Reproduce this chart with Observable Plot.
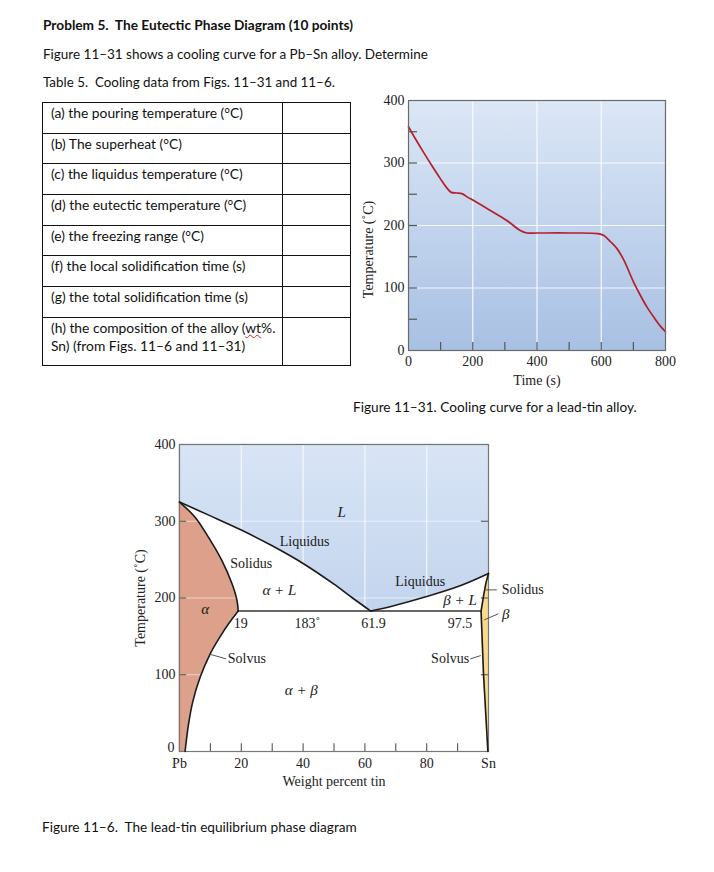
<!DOCTYPE html>
<html><head><meta charset="utf-8">
<script src="https://cdn.jsdelivr.net/npm/d3@7"></script>
<script src="https://cdn.jsdelivr.net/npm/@observablehq/plot@0.6"></script>
<style>
body{margin:0;background:#fff;width:714px;height:872px;position:relative;overflow:hidden;font-family:Lato,"Open Sans",sans-serif;color:#111}
.t{position:absolute;white-space:nowrap;font-size:14px;line-height:1}
table{position:absolute;left:42px;top:102px;border-collapse:collapse;table-layout:fixed}
td{border:1.3px solid #111;padding:1px 0 0 8px;vertical-align:top;line-height:18.3px;white-space:nowrap;overflow:visible}
.chart{position:absolute}
</style></head><body>
<script>
// ---------- text content ----------
const titleText = "Problem 5.\u00a0 The Eutectic Phase Diagram (10 points)";
const introText = "Figure 11\u201331 shows a cooling curve for a Pb\u2013Sn alloy. Determine";
const tableTitle = "Table 5.\u00a0 Cooling data from Figs. 11\u201331 and 11\u20136.";
const questions = [
  "(a) the pouring temperature (\u00b0C)",
  "(b) The superheat (\u00b0C)",
  "(c) the liquidus temperature (\u00b0C)",
  "(d) the eutectic temperature (\u00b0C)",
  "(e) the freezing range (\u00b0C)",
  "(f) the local solidification time (s)",
  "(g) the total solidification time (s)",
  "(h) the composition of the alloy (<span style=\"text-decoration:underline wavy #d02020;text-decoration-thickness:1px\">wt</span>%.<br>Sn) (from Figs. 11\u20136 and 11\u201331)"
];
const caption1 = "Figure 11\u201331. Cooling curve for a lead-tin alloy.";
const caption2 = "Figure 11\u20136.\u00a0 The lead-tin equilibrium phase diagram";

// ---------- cooling curve data ----------
const coolTime = [0, 20, 47, 75, 99, 118, 133, 150, 166, 185, 203, 255, 306, 348, 369, 400, 500, 590, 608, 629, 649, 670, 701, 722, 743, 764, 784, 800];
const coolTemp = [358, 340, 317, 294, 275, 261, 253, 252, 251, 245, 240, 224, 208, 192, 188, 188, 188, 187, 184, 174, 163, 145, 109, 88, 69, 53, 39, 30];
const coolTicksX = [0, 200, 400, 600, 800];
const coolTicksY = [0, 100, 200, 300, 400];
const coolMinorX = [100, 200, 300, 400, 500, 600, 700];
const coolMinorY = [50, 100, 150, 200, 250, 300, 350];
const coolGridX = [200, 400, 600];
const coolGridY = [100, 200, 300];

// ---------- phase diagram data ----------
const liqLeftX = [0, 10, 20, 30, 40, 50, 56, 61.9];
const liqLeftT = [325, 307, 288.5, 268, 245, 218, 200, 183];
const liqRightX = [61.9, 69.3, 80, 90.8, 100];
const liqRightT = [183, 190, 202, 216, 232];
const alphaSolidusX = [0, 5.1, 9.4, 13.7, 17, 18.6, 19];
const alphaSolidusT = [325, 305, 279, 249, 218.5, 197, 183];
const alphaSolvusX = [19, 16, 13.2, 9.9, 6.7, 4.3, 2.9, 1.8];
const alphaSolvusT = [183, 167, 150, 127, 97, 65, 35, 0];
const betaSolidusX = [97.6, 98.5, 99.2, 100];
const betaSolidusT = [183, 205, 220, 232];
const betaSolvusX = [97.6, 98.4, 99.8];
const betaSolvusT = [183, 100, 0];
const eutecticT = 183;
const alphaMax = 19, betaMin = 97.6;
const phaseTicksX = [0, 20, 40, 60, 80, 100];
const phaseTickLabelsX = ["Pb", "20", "40", "60", "80", "Sn"];
const phaseTicksY = [100, 200, 300, 400];
const phaseZeroY = [0];
const phaseMinorX = [10, 20, 30, 40, 50, 60, 70, 80, 90];
const phaseMinorY = [100, 200, 300];
const phaseGridX = [20, 40, 60, 80];
const phaseGridY = [100, 200, 300];
const labelText = ["L", "Liquidus", "Solidus", "\u03b1 + L", "\u03b1", "19", "183\u02da", "61.9", "97.5", "Liquidus", "\u03b2 + L", "Solvus", "Solvus", "\u03b1 + \u03b2", "Solidus", "\u03b2"];
const labelX = [52.5, 40.5, 23.2, 32.3, 8.3, 19.8, 41.4, 62.8, 90.8, 77.9, 90.8, 21.8, 87.6, 39.4, 104.3, 104.4];
const labelT = [312, 274, 245.5, 210.6, 185, 167, 167, 167, 167, 221.5, 196.7, 120.7, 120.7, 80.3, 210.6, 179.4];
const labelItalic = [1, 0, 0, 1, 1, 0, 0, 0, 0, 0, 1, 0, 0, 1, 0, 1];
const labelStart = [0, 0, 0, 0, 0, 0, 0, 0, 0, 0, 0, 0, 0, 0, 1, 1];
const leaderX1 = [10.1, 94.1, 98.7, 98.6];
const leaderT1 = [126.4, 120.7, 210.6, 171.5];
const leaderX2 = [15.1, 97.5, 102.7, 103.2];
const leaderT2 = [120.7, 125, 210.6, 179.4];

// ---------- HTML text ----------
function addText(txt, left, top, target, bold) {
  const d = document.createElement("div");
  d.className = "t";
  d.style.left = left + "px"; d.style.top = top + "px";
  if (bold) d.style.fontWeight = "700";
  d.textContent = txt;
  document.body.appendChild(d);
  const w = d.getBoundingClientRect().width;
  d.style.fontSize = (14 * target / w).toFixed(2) + "px";
  return d;
}
addText(titleText, 43, 18, 310, true);
addText(introText, 43, 48, 385, false);
addText(tableTitle, 43, 76, 292, false);
addText(caption1, 353, 401, 284, false);
addText(caption2, 42, 821, 315, false);

// table
const rowH = [30.6, 30, 31, 31, 30.4, 31, 30.6, 48.7];
const tbl = document.createElement("table");
const probe = document.createElement("span");
probe.style.cssText = "position:absolute;visibility:hidden;white-space:nowrap;font-size:14px;font-family:Lato,sans-serif";
probe.textContent = questions[0];
document.body.appendChild(probe);
const cellFont = (14 * 192 / probe.getBoundingClientRect().width).toFixed(2);
probe.remove();
questions.forEach((q, i) => {
  const tr = document.createElement("tr");
  tr.style.height = rowH[i] + "px";
  const a = document.createElement("td");
  a.style.width = "231px"; a.style.fontSize = cellFont + "px";
  a.innerHTML = q;
  const b = document.createElement("td");
  b.style.width = "59px";
  tr.appendChild(a); tr.appendChild(b);
  tbl.appendChild(tr);
});
document.body.appendChild(tbl);

// ---------- helpers ----------
function addGradient(svg, id, c1, c2, userY) {
  const ns = "http://www.w3.org/2000/svg";
  const defs = document.createElementNS(ns, "defs");
  const g = document.createElementNS(ns, "linearGradient");
  g.setAttribute("id", id);
  if (userY) {
    g.setAttribute("gradientUnits", "userSpaceOnUse");
    g.setAttribute("x1", "0"); g.setAttribute("x2", "0");
    g.setAttribute("y1", userY[0]); g.setAttribute("y2", userY[1]);
  } else {
    g.setAttribute("x1", "0"); g.setAttribute("y1", "0"); g.setAttribute("x2", "0"); g.setAttribute("y2", "1");
  }
  [[0, c1], [1, c2]].forEach(([o, c]) => {
    const s = document.createElementNS(ns, "stop");
    s.setAttribute("offset", o); s.setAttribute("stop-color", c);
    g.appendChild(s);
  });
  defs.appendChild(g);
  svg.insertBefore(defs, svg.firstChild);
}
function place(el, left, top) {
  const w = document.createElement("div");
  w.className = "chart";
  w.style.left = left + "px"; w.style.top = top + "px";
  w.appendChild(el);
  document.body.appendChild(w);
}
const serif = "Liberation Serif, Times New Roman, serif";

// ---------- cooling curve ----------
const coolData = coolTime.map((t, i) => ({t, T: coolTemp[i]}));
const cool = Plot.plot({
  width: 350, height: 310,
  marginLeft: 68, marginRight: 25, marginTop: 15, marginBottom: 45,
  x: {domain: [0, 800], label: null},
  y: {domain: [0, 400], label: null},
  style: {fontFamily: serif, fontSize: "14px", color: "#222", background: "transparent", overflow: "visible"},
  marks: [
    Plot.frame({fill: "url(#coolGrad)"}),
    Plot.gridX({ticks: coolGridX, stroke: "white", strokeOpacity: 0.85, strokeWidth: 1.2}),
    Plot.gridY({ticks: coolGridY, stroke: "white", strokeOpacity: 0.85, strokeWidth: 1.2}),
    Plot.ruleX(coolMinorX, {x: d => d, y1: 0, y2: 13, stroke: "#555", strokeWidth: 1.2}),
    Plot.ruleY(coolMinorY, {y: d => d, x1: 0, x2: 28, stroke: "#555", strokeWidth: 1.2}),
    Plot.line(coolData, {x: "t", y: "T", stroke: "#b51f2c", strokeWidth: 1.7, curve: "catmull-rom"}),
    Plot.frame({stroke: "#6a6a6a", strokeWidth: 1.2}),
    Plot.axisX({ticks: coolTicksX, tickSize: 0, tickPadding: 6, fontSize: 14, label: null}),
    Plot.axisY({ticks: coolTicksY, tickSize: 0, tickPadding: 4, fontSize: 14, label: null}),
    Plot.text(["Time (s)"], {text: d => d, frameAnchor: "bottom", lineAnchor: "middle", textAnchor: "middle", dy: 30, fontSize: 14}),
    Plot.text(["Temperature (\u02daC)"], {text: d => d, frameAnchor: "left", textAnchor: "middle", lineAnchor: "middle", dx: -40, dy: 24, rotate: -90, fontSize: 14})
  ]
});
addGradient(cool, "coolGrad", "#dce7f6", "#a8c0e3");
place(cool, 340, 85);

// ---------- phase diagram ----------
const liqL = liqLeftX.map((x, i) => ({x, T: liqLeftT[i], part: "left"}));
const liqR = liqRightX.map((x, i) => ({x, T: liqRightT[i], part: "right"}));
const aSol = alphaSolidusX.map((x, i) => ({x, T: alphaSolidusT[i], part: "solidus"}));
const aSolv = alphaSolvusX.map((x, i) => ({x, T: alphaSolvusT[i], part: "solvus"}));
const bSol = betaSolidusX.map((x, i) => ({x, T: betaSolidusT[i], part: "solidus"}));
const bSolv = betaSolvusX.map((x, i) => ({x, T: betaSolvusT[i], part: "solvus"}));
const alphaArea = aSolv.slice().reverse().concat(aSol.slice().reverse());
const betaArea = bSolv.slice().reverse().concat(bSol);
const labels = labelText.map((s, i) => ({s, x: labelX[i], T: labelT[i], it: labelItalic[i], st: labelStart[i]}));
const leaders = leaderX1.map((x1, i) => ({x1, y1: leaderT1[i], x2: leaderX2[i], y2: leaderT2[i]}));
const yTop = 400, xRight = 100;
const lineStyle = {x: "x", y: "T", stroke: "#1b1b1b", strokeWidth: 1.6, curve: "catmull-rom"};

const phase = Plot.plot({
  width: 440, height: 366,
  marginLeft: 59, marginRight: 72, marginTop: 14, marginBottom: 45,
  x: {domain: [0, 100], label: null},
  y: {domain: [0, 400], label: null},
  style: {fontFamily: serif, fontSize: "14px", color: "#222", background: "transparent", overflow: "visible"},
  marks: [
    Plot.areaY(liqL.concat(liqR), {x: "x", y1: "T", y2: yTop, z: "part", fill: "url(#liqGrad)", stroke: "url(#liqGrad)", strokeWidth: 0.8, curve: "catmull-rom"}),
    Plot.areaX(alphaArea, {y: "T", x1: 0, x2: "x", z: "part", fill: "#dca08b", stroke: "#dca08b", strokeWidth: 0.8, curve: "catmull-rom"}),
    Plot.areaX(betaArea, {y: "T", x1: "x", x2: xRight, z: "part", fill: "#f8da8e", stroke: "#f8da8e", strokeWidth: 0.6}),
    Plot.gridX({ticks: phaseGridX, stroke: "white", strokeOpacity: 0.75, strokeWidth: 1.2}),
    Plot.gridY({ticks: phaseGridY, stroke: "white", strokeOpacity: 0.55, strokeWidth: 1.2}),
    Plot.ruleX(phaseMinorX, {x: d => d, y1: 0, y2: 10, stroke: "#555", strokeWidth: 1.1}),
    Plot.ruleY(phaseMinorY, {y: d => d, x1: 0, x2: 2.3, stroke: "#555", strokeWidth: 1.1}),
    Plot.ruleY(phaseMinorY, {y: d => d, x1: 97.7, x2: xRight, stroke: "#555", strokeWidth: 1.1}),
    Plot.frame({stroke: "#777", strokeWidth: 1.2}),
    Plot.ruleY([eutecticT], {y: d => d, x1: alphaMax, x2: betaMin, stroke: "#333", strokeWidth: 1.6}),
    Plot.line(liqL, lineStyle),
    Plot.line(liqR, lineStyle),
    Plot.line(aSol, lineStyle),
    Plot.line(aSolv, lineStyle),
    Plot.line(bSol, {...lineStyle, curve: "linear"}),
    Plot.line(bSolv, {...lineStyle, curve: "linear"}),
    Plot.link(leaders, {x1: "x1", y1: "y1", x2: "x2", y2: "y2", stroke: "#555", strokeWidth: 1}),
    Plot.text(labels.filter(d => !d.it && !d.st), {x: "x", y: "T", text: "s", fontSize: 14, fill: "#1a1a1a"}),
    Plot.text(labels.filter(d => d.it && !d.st), {x: "x", y: "T", text: "s", fontSize: 15, fontStyle: "italic", fill: "#1a1a1a"}),
    Plot.text(labels.filter(d => !d.it && d.st), {x: "x", y: "T", text: "s", fontSize: 14, textAnchor: "start", fill: "#1a1a1a"}),
    Plot.text(labels.filter(d => d.it && d.st), {x: "x", y: "T", text: "s", fontSize: 15, fontStyle: "italic", textAnchor: "start", fill: "#1a1a1a"}),
    Plot.axisX({ticks: phaseTicksX, tickFormat: d => phaseTickLabelsX[phaseTicksX.indexOf(d)], tickSize: 0, tickPadding: 7, fontSize: 14, label: null}),
    Plot.axisY({ticks: phaseTicksY, tickSize: 0, tickPadding: 4, fontSize: 14, label: null}),
    Plot.axisY({ticks: phaseZeroY, tickSize: 0, tickPadding: 5, dy: -4, fontSize: 14, label: null}),
    Plot.text(["Weight percent tin"], {text: d => d, frameAnchor: "bottom", lineAnchor: "middle", textAnchor: "middle", dy: 30, fontSize: 14}),
    Plot.text(["Temperature (\u02daC)"], {text: d => d, frameAnchor: "left", textAnchor: "middle", lineAnchor: "middle", dx: -39, rotate: -90, fontSize: 14})
  ]
});
addGradient(phase, "liqGrad", "#d9e5f6", "#c2d4ed", [14, 181]);
place(phase, 120, 430);
</script>
</body></html>
